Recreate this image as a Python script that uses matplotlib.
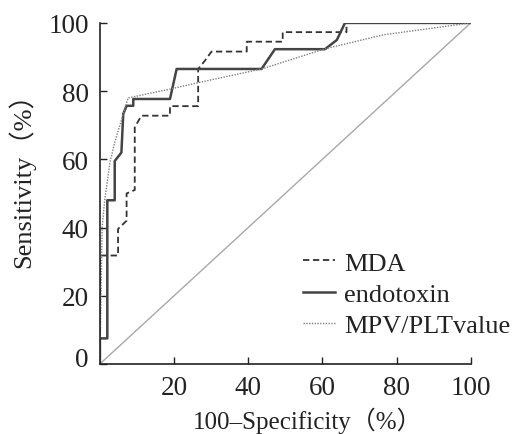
import matplotlib
matplotlib.use("Agg")
import matplotlib.pyplot as plt
import matplotlib.transforms as mtransforms

# ROC curves
mda_x = [0, 0, 4.9, 4.9, 7.2, 7.2, 9.4, 9.4, 11.2, 18.9, 18.9, 26.5, 26.5,
         28.3, 30.1, 39.6, 39.6, 49.3, 49.3, 66.5, 66.5, 100]
mda_y = [0, 31.8, 31.8, 39.6, 42, 50, 51, 69.4, 72.8, 72.8, 75.6, 75.6, 86.5,
         88.9, 91.6, 91.6, 94.5, 94.5, 97.3, 97.3, 100, 100]

endo_x = [0, 0, 2, 2, 4, 4, 5.8, 6.3, 7.2, 9, 9, 18.9, 20.7, 43.6, 47.2,
          60.7, 63.9, 66.1, 100]
endo_y = [0, 7.5, 7.5, 48, 48, 59.5, 62, 73.3, 75.7, 75.7, 77.7, 77.7, 86.5,
          86.5, 92.3, 92.3, 95, 100, 100]

mpv_x = [0, 0.3, 0.6, 1.3, 2.7, 4, 5.4, 7.6, 18.9, 27, 43.6, 60.7, 76.4, 100]
mpv_y = [0, 20, 40, 48, 59, 65, 70, 78, 80.6, 82.6, 86.5, 92.4, 96.5, 100]

ticks = [0, 20, 40, 60, 80, 100]
serif = ["Liberation Serif", "Noto Sans CJK SC"]

plt.rcParams["font.family"] = serif

fig = plt.figure(figsize=(5.23, 4.35), dpi=100)
ax = fig.add_axes([0.191, 0.161, 0.709, 0.784])

ax.plot([0, 100], [0, 100], color="#a8a8a8", lw=1.0)
ax.plot(mda_x, mda_y, color="#333333", lw=1.3, ls=(0, (3.5, 2)), label="MDA")
ax.plot(endo_x, endo_y, color="#444444", lw=1.8, label="endotoxin")
ax.plot(mpv_x, mpv_y, color="#808080", lw=1.0, ls=(0, (1, 1)),
        label="MPV/PLTvalue")

ax.set_xlim(0, 100)
ax.set_ylim(0, 100)
ax.set_xticks(ticks[1:])
ax.set_yticks(ticks)
ax.tick_params(direction="in", length=5, width=1, labelsize=19.5,
               colors="#222222", pad=8)
for side in ["top", "right"]:
    ax.spines[side].set_visible(False)
for side in ["left", "bottom"]:
    ax.spines[side].set_linewidth(1.2)
    ax.spines[side].set_color("#222222")

# the "0" label sits a little above the x axis in the reference
zero = ax.get_yticklabels()[0]
zero.set_transform(zero.get_transform() +
                   mtransforms.ScaledTranslation(0, 7 / 100, fig.dpi_scale_trans))

ax.set_xlabel("100\u2013Specificity（%）", fontsize=18, color="#222222")
ax.xaxis.set_label_coords(0.56, -0.125)
ax.set_ylabel("Sensitivity（%）", fontsize=19, color="#222222")
ax.yaxis.set_label_coords(-0.175, 0.56)

leg = ax.legend(loc="lower right", bbox_to_anchor=(1.135, 0.047),
                frameon=False, fontsize=19, handlelength=1.2,
                handletextpad=0.35, labelspacing=0.3, borderaxespad=0)
for t in leg.get_texts():
    t.set_color("#222222")

fig.savefig("out.png", dpi=100)
